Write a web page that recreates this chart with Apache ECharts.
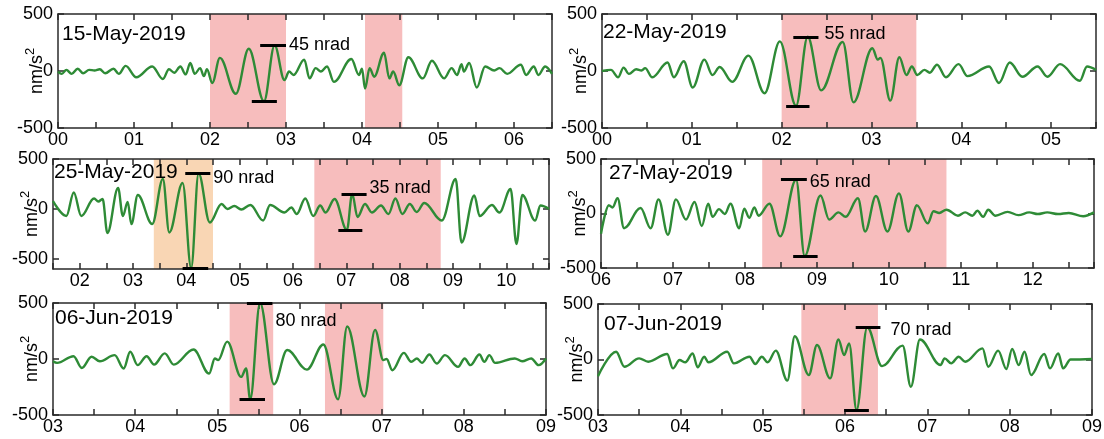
<!DOCTYPE html>
<html>
<head>
<meta charset="utf-8">
<script src="https://cdn.jsdelivr.net/npm/echarts@6/dist/echarts.min.js"></script>
<style>
  html, body { margin: 0; padding: 0; background: #fff; }
  #chart { width: 1104px; height: 439px; }
</style>
</head>
<body>
<div id="chart"></div>
<script>
// Band-passed ground acceleration (nm/s^2) versus time in minutes, one panel per event.
const dates = ['15-May-2019', '22-May-2019', '25-May-2019', '27-May-2019', '06-Jun-2019', '07-Jun-2019'];

const t1 = [0.00,0.05,0.11,0.18,0.26,0.33,0.41,0.48,0.55,0.62,0.73,0.80,0.89,1.03,1.24,1.38,1.46,1.53,1.61,1.68,1.74,1.80,1.87,1.92,1.96,2.03,2.13,2.34,2.51,2.71,2.85,2.98,3.04,3.10,3.24,3.31,3.39,3.46,3.54,3.63,3.86,3.96,4.00,4.04,4.10,4.16,4.29,4.36,4.41,4.49,4.61,4.80,4.92,5.08,5.18,5.25,5.31,5.34,5.41,5.51,5.62,5.74,5.81,5.91,6.09,6.16,6.26,6.32,6.41,6.50];
const v1 = [-5,-25,10,-25,20,-20,10,5,15,-20,20,-25,45,-55,40,-70,15,-15,40,-30,70,-25,25,-45,15,-105,115,-200,195,-265,225,-80,-5,-35,100,-65,25,-5,40,-95,105,-35,20,-155,25,-50,160,-65,-5,-125,120,-65,90,-65,25,-35,60,-5,70,-145,40,5,25,-25,55,-35,40,-35,40,-25];

const t2 = [0.00,0.10,0.18,0.24,0.30,0.38,0.44,0.48,0.56,0.73,0.80,0.91,1.01,1.14,1.23,1.31,1.45,1.63,1.81,1.98,2.16,2.29,2.44,2.68,2.80,3.01,3.07,3.10,3.21,3.31,3.39,3.45,3.51,3.59,3.65,3.73,3.83,3.97,4.07,4.31,4.42,4.54,4.68,4.85,4.96,5.10,5.32,5.40,5.50];
const v2 = [0,10,-55,30,-25,15,5,25,-55,75,-55,85,-145,100,-35,35,-95,135,-195,260,-305,300,-170,255,-275,200,100,115,-260,120,-35,40,-35,10,-15,55,-55,60,-45,40,-105,75,-50,40,-50,60,-85,40,10];

const t3 = [1.50,1.75,1.89,2.03,2.27,2.35,2.43,2.52,2.72,2.81,2.90,2.97,3.09,3.36,3.56,3.68,3.93,4.09,4.23,4.44,4.66,4.77,4.90,5.03,5.20,5.44,5.57,5.84,5.97,6.07,6.23,6.38,6.51,6.61,6.78,7.01,7.11,7.21,7.35,7.48,7.65,7.79,7.92,8.05,8.19,8.32,8.46,8.79,9.05,9.16,9.40,9.50,9.73,9.87,10.08,10.19,10.30,10.54,10.64,10.80];
const v3 = [80,-70,165,-70,105,75,100,-240,210,-70,70,-150,140,-150,300,-235,260,-590,355,-135,50,0,30,-5,40,-115,40,-35,15,-50,105,-70,35,-35,100,-210,150,-80,50,-35,35,-50,105,-50,50,-30,60,-115,300,-335,135,-70,40,-35,200,-350,140,-115,35,0];

const t4 = [6.00,6.11,6.16,6.23,6.32,6.55,6.69,6.80,6.93,7.04,7.18,7.30,7.40,7.49,7.55,7.64,7.72,7.80,7.92,7.99,8.06,8.13,8.19,8.34,8.49,8.71,8.83,9.05,9.17,9.30,9.40,9.57,9.67,9.82,9.98,10.14,10.27,10.39,10.54,10.62,10.70,10.80,10.96,11.06,11.16,11.23,11.31,11.38,11.48,11.65,11.80,11.95,12.07,12.20,12.35,12.50,12.70,12.85];
const v4 = [-185,75,55,140,-135,50,-135,130,-195,130,-55,105,-115,90,-30,40,-5,90,-135,45,-40,55,-20,90,-210,310,-390,165,-55,10,-30,140,-165,160,-165,185,-165,75,-90,20,5,35,-20,10,-20,25,-30,35,-20,15,-15,10,-5,10,-5,5,-25,10];

const t5 = [3.00,3.05,3.25,3.35,3.47,3.57,3.75,3.86,3.94,4.03,4.14,4.23,4.36,4.47,4.71,4.90,4.97,5.01,5.12,5.29,5.35,5.40,5.52,5.69,5.85,6.09,6.29,6.47,6.58,6.79,6.92,7.02,7.06,7.13,7.27,7.36,7.43,7.49,7.58,7.67,7.77,7.93,8.01,8.08,8.19,8.25,8.31,8.38,8.62,8.71,8.82,8.91,9.00];
const v5 = [-20,-35,25,-80,20,-20,35,-85,65,-55,25,-50,50,-50,85,-130,5,-10,155,-160,-85,-360,500,-225,80,-95,130,-360,290,-335,260,-10,0,-100,55,-25,5,-35,40,-40,35,-70,5,-55,40,-25,35,-35,5,-20,5,-55,5];

const t6 = [3.00,3.22,3.32,3.50,3.61,3.84,3.91,3.99,4.06,4.15,4.21,4.29,4.34,4.57,4.65,4.84,4.91,4.99,5.06,5.16,5.30,5.39,5.56,5.66,5.82,5.92,5.99,6.05,6.14,6.27,6.45,6.70,6.80,6.91,7.16,7.21,7.29,7.38,7.46,7.67,7.74,7.86,7.96,8.03,8.11,8.18,8.26,8.42,8.49,8.59,8.65,8.74,9.00];
const v6 = [-150,70,-65,10,-20,50,-80,-5,-25,55,-70,25,-25,70,-35,25,-40,25,-25,80,-190,210,-140,130,-170,180,40,145,-455,290,-60,125,-245,180,-50,10,-35,25,-20,100,-65,80,-85,95,-50,70,-140,50,-80,55,-80,0,5];

// Axis extents (minutes, nm/s^2) and the labelled y ticks
const xRanges = [[0, 6.5], [0, 5.5], [1.5, 10.8], [6, 12.85], [3, 9], [3, 9]];
const yRanges = [[-500, 500], [-500, 500], [-600, 500], [-500, 500], [-500, 500], [-500, 500]];
const yTicks = [-500, 0, 500];

// Highlighted time windows: [start, end, kind]
const windows1 = [[2.0, 3.0, 'event'], [4.04, 4.53, 'event']];
const windows2 = [[2.0, 3.5, 'event']];
const windows3 = [[3.39, 4.5, 'main'], [6.4, 8.77, 'event']];
const windows4 = [[8.24, 10.8, 'event']];
const windows5 = [[5.15, 5.68, 'event'], [6.31, 7.02, 'event']];
const windows6 = [[5.47, 6.4, 'event']];

// Peak / trough markers: [start, end, level]; upper marker first in each pair
const bars1 = [[2.66, 3.00, 225], [2.55, 2.88, -265]];
const bars2 = [[2.13, 2.41, 300], [2.05, 2.31, -305]];
const bars3 = [[3.98, 4.45, 355], [3.93, 4.41, -590], [6.91, 7.38, 150], [6.85, 7.30, -210]];
const bars4 = [[8.50, 8.86, 310], [8.67, 9.01, -390]];
const bars5 = [[5.36, 5.67, 500], [5.27, 5.58, -360]];
const bars6 = [[6.13, 6.43, 290], [5.99, 6.29, -455]];

// Tilt amplitude for each marker pair
const tilts1 = ['45 nrad'];
const tilts2 = ['55 nrad'];
const tilts3 = ['90 nrad', '35 nrad'];
const tilts4 = ['65 nrad'];
const tilts5 = ['80 nrad'];
const tilts6 = ['70 nrad'];

const times = [t1, t2, t3, t4, t5, t6];
const values = [v1, v2, v3, v4, v5, v6];
const windows = [windows1, windows2, windows3, windows4, windows5, windows6];
const bars = [bars1, bars2, bars3, bars4, bars5, bars6];
const tilts = [tilts1, tilts2, tilts3, tilts4, tilts5, tilts6];

// ---- layout and style ----
const FONT = "'Liberation Sans', Arial, Helvetica, sans-serif";
const INK = '#000';
const FRAME = '#2a2a2a';
const TRACE = '#2e8b36';
const SHADE = { event: '#f7bdbd', main: '#f9d6b4' };

const grids = [
  { left: 58,  top: 14,  width: 494, height: 114 },
  { left: 602, top: 14,  width: 494, height: 114 },
  { left: 53,  top: 159, width: 496, height: 110 },
  { left: 601, top: 159, width: 493, height: 109 },
  { left: 53,  top: 303, width: 493, height: 112 },
  { left: 598, top: 304, width: 494, height: 111 }
].map(g => Object.assign({ containLabel: false, outerBoundsMode: 'none' }, g));
const titlePos = [[62, 24], [603, 22], [54, 162], [609, 163], [55, 308], [604, 314]];
const noteOffset = [[[0, 0]], [[3, -3]], [[0, 5], [0, -6]], [[0, 2]], [[0, 18]], [[7, 3]]];

const pad2 = v => {
  const r = Math.round(v * 100) / 100;
  return Number.isInteger(r) ? String(r).padStart(2, '0') : '';
};

const xAxes = [], yAxes = [], series = [], titles = [];

grids.forEach((g, i) => {
  const axisLine = { show: true, onZero: false, lineStyle: { color: FRAME, width: 1.5 } };
  const tick = { show: true, inside: true, length: 6, lineStyle: { color: FRAME, width: 1.5 } };
  [ 'bottom', 'top' ].forEach(pos => {
    xAxes.push({
      type: 'value', gridIndex: i, position: pos,
      min: xRanges[i][0], max: xRanges[i][1], interval: 0.5,
      axisLine, axisTick: tick, splitLine: { show: false }, z: 3,
      axisLabel: pos === 'bottom'
        ? { show: true, formatter: pad2, color: INK, fontSize: 18, fontFamily: FONT, margin: 3 }
        : { show: false }
    });
  });
  [ 'left', 'right' ].forEach(pos => {
    const y = {
      type: 'value', gridIndex: i, position: pos,
      min: yRanges[i][0], max: yRanges[i][1],
      axisLine, axisTick: Object.assign({ customValues: yTicks }, tick),
      splitLine: { show: false }, z: 3,
      axisLabel: pos === 'left'
        ? { show: true, customValues: yTicks, color: INK, fontSize: 18, fontFamily: FONT, margin: 5 }
        : { show: false }
    };
    if (pos === 'left') {
      Object.assign(y, {
        name: '{b|nm/s}{sup|2}', nameLocation: 'middle', nameRotate: 90, nameGap: 12,
        nameMoveOverlap: false,
        nameTextStyle: {
          color: INK, fontFamily: FONT, fontSize: 18,
          rich: {
            b: { fontSize: 18, fontFamily: FONT, color: INK, verticalAlign: 'bottom', lineHeight: 22 },
            sup: { fontSize: 13, fontFamily: FONT, color: INK, verticalAlign: 'top', lineHeight: 22 }
          }
        }
      });
    }
    yAxes.push(y);
  });

  titles.push({
    text: dates[i], left: titlePos[i][0], top: titlePos[i][1], padding: 0,
    textStyle: { fontSize: 21, fontWeight: 'normal', color: INK, fontFamily: FONT }
  });

  const bs = bars[i];
  series.push({
    type: 'line', xAxisIndex: 2 * i, yAxisIndex: 2 * i,
    data: times[i].map((t, k) => [t, values[i][k]]),
    showSymbol: false, smooth: 0.36, smoothMonotone: 'x',
    lineStyle: { color: TRACE, width: 2.4 }, silent: true,
    markArea: {
      silent: true,
      data: windows[i].map(w => [{ xAxis: w[0], itemStyle: { color: SHADE[w[2]], opacity: 1 } }, { xAxis: w[1] }])
    },
    markLine: {
      silent: true, symbol: ['none', 'none'], animation: false,
      label: { show: false },
      lineStyle: { color: '#000', width: 3, type: 'solid', opacity: 1 },
      emphasis: { disabled: true },
      data: bs.map(b => [{ coord: [b[0], b[2]] }, { coord: [b[1], b[2]] }])
    }
  });

  // tilt labels sit just right of each upper marker
  series.push({
    type: 'scatter', xAxisIndex: 2 * i, yAxisIndex: 2 * i, silent: true,
    symbolSize: 0, clip: false, z: 6,
    itemStyle: { opacity: 1 },
    data: tilts[i].map((txt, k) => ({
      value: [bs[2 * k][1], bs[2 * k][2]],
      label: {
        show: true, position: 'right', distance: 3, formatter: txt,
        offset: noteOffset[i][k], color: INK, opacity: 1,
        fontSize: 18, fontFamily: FONT, textBorderWidth: 0
      }
    }))
  });
});

const chart = echarts.init(document.getElementById('chart'), null, { renderer: 'canvas' });
chart.setOption({
  animation: false,
  backgroundColor: '#fff',
  title: titles,
  grid: grids,
  xAxis: xAxes,
  yAxis: yAxes,
  series
});
</script>
</body>
</html>
